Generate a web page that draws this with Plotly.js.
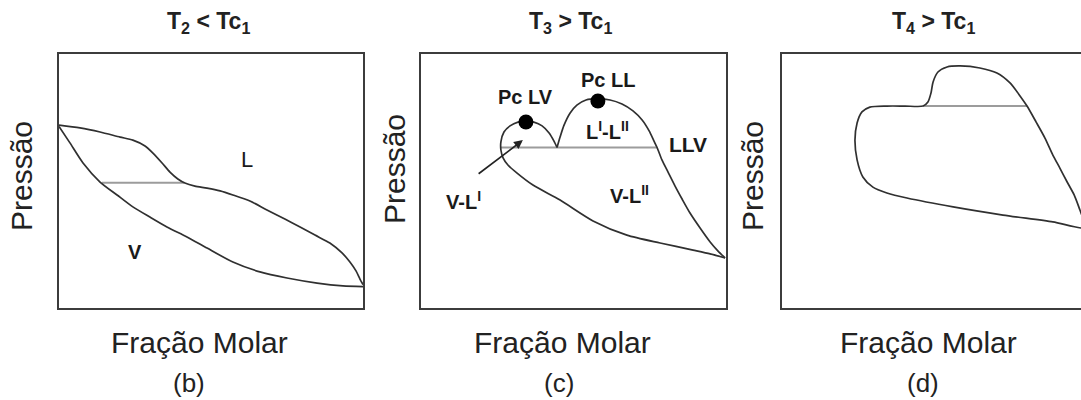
<!DOCTYPE html>
<html>
<head>
<meta charset="utf-8">
<script src="https://cdn.plot.ly/plotly-3.0.1.min.js"></script>
<style>
  html, body { margin: 0; padding: 0; overflow: hidden; background: #fff; }
  #chart { width: 1090px; height: 400px; }
</style>
</head>
<body>
<div id="chart"></div>
<script>
// Schematic P-x phase diagrams (composition normalised 0..1, pressure normalised 0..1)

// (b) T2 < Tc1 : bubble (liquid) curve
const bLiquidX = [0, 0.069, 0.135, 0.201, 0.243, 0.283, 0.309, 0.339, 0.365, 0.391, 0.414, 0.447, 0.487, 0.530, 0.572, 0.628, 0.684, 0.743, 0.793, 0.842, 0.891, 0.931, 0.957, 0.977, 0.990, 1.0];
const bLiquidY = [0.720, 0.709, 0.693, 0.673, 0.661, 0.638, 0.610, 0.571, 0.535, 0.508, 0.492, 0.480, 0.472, 0.461, 0.445, 0.421, 0.386, 0.350, 0.319, 0.287, 0.256, 0.217, 0.181, 0.146, 0.114, 0.092];
// (b) dew (vapour) curve
const bVaporX = [0, 0.036, 0.079, 0.135, 0.191, 0.243, 0.299, 0.355, 0.421, 0.487, 0.572, 0.661, 0.750, 0.849, 0.934, 1.0];
const bVaporY = [0.715, 0.650, 0.571, 0.496, 0.445, 0.398, 0.358, 0.319, 0.280, 0.236, 0.181, 0.142, 0.118, 0.098, 0.087, 0.084];
// (b) three-phase tie line
const bTieX = [0.141, 0.412];
const bTieY = [0.493, 0.493];

// (c) T3 > Tc1 : dew curve continuing into the L-V critical lobe
const cLobeVX = [0.997, 0.948, 0.892, 0.784, 0.675, 0.564, 0.456, 0.367, 0.315, 0.285, 0.269, 0.262, 0.262, 0.272, 0.292, 0.318, 0.344, 0.370, 0.397, 0.420, 0.436, 0.446];
const cLobeVY = [0.197, 0.213, 0.228, 0.256, 0.287, 0.343, 0.425, 0.484, 0.531, 0.563, 0.591, 0.622, 0.654, 0.693, 0.717, 0.732, 0.736, 0.732, 0.717, 0.689, 0.657, 0.632];
// (c) L-L critical lobe descending to the pure-component point
const cLobeLX = [0.446, 0.456, 0.469, 0.489, 0.511, 0.541, 0.580, 0.620, 0.659, 0.695, 0.725, 0.748, 0.764, 0.774, 0.790, 0.810, 0.833, 0.856, 0.882, 0.915, 0.948, 0.974, 0.997];
const cLobeLY = [0.632, 0.673, 0.720, 0.768, 0.799, 0.819, 0.823, 0.819, 0.803, 0.776, 0.740, 0.697, 0.657, 0.632, 0.583, 0.535, 0.480, 0.429, 0.374, 0.315, 0.260, 0.224, 0.197];
// (c) LLV line and critical points
const cTieX = [0.262, 0.774];
const cTieY = [0.632, 0.632];
const cCritX = [0.344, 0.580];
const cCritY = [0.732, 0.815];

// (d) T4 > Tc1 : single closed envelope
const dEnvX = [1.0, 0.990, 0.980, 0.961, 0.938, 0.914, 0.891, 0.865, 0.836, 0.806, 0.783, 0.750, 0.707, 0.651, 0.586, 0.543, 0.513, 0.497, 0.490, 0.480, 0.464, 0.405, 0.345, 0.289, 0.263, 0.247, 0.240, 0.247, 0.266, 0.299, 0.345, 0.411, 0.563, 0.727, 0.891, 1.0];
const dEnvY = [0.315, 0.354, 0.386, 0.445, 0.496, 0.551, 0.602, 0.669, 0.732, 0.795, 0.835, 0.886, 0.925, 0.945, 0.953, 0.949, 0.929, 0.890, 0.846, 0.811, 0.795, 0.795, 0.795, 0.791, 0.772, 0.728, 0.661, 0.583, 0.516, 0.476, 0.453, 0.433, 0.398, 0.366, 0.339, 0.315];
const dTieX = [0.464, 0.806];
const dTieY = [0.795, 0.795];

// Text
const panelTitles = ['T<sub>2</sub> < Tc<sub>1</sub>', 'T<sub>3</sub> > Tc<sub>1</sub>', 'T<sub>4</sub> > Tc<sub>1</sub>'];
const panelTags = ['(b)', '(c)', '(d)'];
const xTitle = 'Fração Molar';
const yTitle = 'Pressão';

// ---- drawing ----
const W = 1090, H = 400;
const px = v => v / W;
const py = v => 1 - v / H;

const CURVE = '#303030';
const TIE = '#9c9c9c';
const FONT = 'Liberation Sans, Arial, Helvetica, sans-serif';

function curve(x, y, xa, ya, color, width) {
  return { type: 'scatter', mode: 'lines', x: x, y: y, xaxis: xa, yaxis: ya,
           line: { color: color, width: width, shape: 'spline', smoothing: 0.7 },
           hoverinfo: 'skip', showlegend: false };
}

const data = [
  curve(bTieX, bTieY, 'x', 'y', TIE, 2),
  curve(bLiquidX, bLiquidY, 'x', 'y', CURVE, 1.7),
  curve(bVaporX, bVaporY, 'x', 'y', CURVE, 1.7),

  curve(cTieX, cTieY, 'x2', 'y2', TIE, 2),
  curve(cLobeVX, cLobeVY, 'x2', 'y2', CURVE, 1.7),
  curve(cLobeLX, cLobeLY, 'x2', 'y2', CURVE, 1.7),
  { type: 'scatter', mode: 'markers', x: cCritX, y: cCritY, xaxis: 'x2', yaxis: 'y2',
    marker: { color: '#000', size: 15 }, hoverinfo: 'skip', showlegend: false },

  curve(dTieX, dTieY, 'x3', 'y3', TIE, 2),
  curve(dEnvX, dEnvY, 'x3', 'y3', CURVE, 1.7)
];

function xAxis(d0, d1, anchor) {
  return { domain: [px(d0), px(d1)], range: [0, 1], anchor: anchor,
           showline: true, mirror: true, linecolor: '#3c3c3c', linewidth: 2,
           showgrid: false, zeroline: false, showticklabels: false, ticks: '', fixedrange: true };
}
function yAxis(anchor) {
  return { domain: [py(308), py(54)], range: [0, 1], anchor: anchor,
           showline: true, mirror: true, linecolor: '#3c3c3c', linewidth: 2,
           showgrid: false, zeroline: false, showticklabels: false, ticks: '', fixedrange: true };
}

const ann = [];
function paperText(text, x, y, size, angle) {
  ann.push({ text: text, xref: 'paper', yref: 'paper', x: px(x), y: py(y),
             xanchor: 'center', yanchor: 'middle', showarrow: false, textangle: angle || 0,
             font: { family: FONT, size: size, color: '#222' } });
}
function dataText(text, xa, ya, x, y, size) {
  ann.push({ text: text, xref: xa, yref: ya, x: x, y: y,
             xanchor: 'center', yanchor: 'middle', showarrow: false,
             font: { family: FONT, size: size, color: '#1a1a1a' } });
}

const titleX = [208, 571, 933];
const xTitleX = [199, 562, 928];
const yTitlePos = [[22, 176], [394, 169], [753, 176]];
const tagX = [189, 559, 923];
for (let i = 0; i < 3; i++) {
  paperText('<b>' + panelTitles[i] + '</b>', titleX[i], 22, 23);
  paperText(xTitle, xTitleX[i], 342, 30);
  paperText(yTitle, yTitlePos[i][0], yTitlePos[i][1], 30, -90);
  paperText(panelTags[i], tagX[i], 383, 26);
}

// region labels
dataText('L', 'x', 'y', 0.618, 0.583, 22);
dataText('<b>V</b>', 'x', 'y', 0.250, 0.220, 20);

dataText('<b>Pc LV</b>', 'x2', 'y2', 0.341, 0.831, 20);
dataText('<b>Pc LL</b>', 'x2', 'y2', 0.613, 0.898, 20);
dataText('<b>L<sup>I</sup>-L<sup>II</sup></b>', 'x2', 'y2', 0.610, 0.700, 20);
dataText('<b>LLV</b>', 'x2', 'y2', 0.875, 0.642, 21);
dataText('<b>V-L<sup>I</sup></b>', 'x2', 'y2', 0.140, 0.425, 20);
dataText('<b>V-L<sup>II</sup></b>', 'x2', 'y2', 0.685, 0.445, 20);

// arrow pointing at the V-L(I) region
ann.push({ text: '', xref: 'x2', yref: 'y2', axref: 'x2', ayref: 'y2',
           x: 0.334, y: 0.661, ax: 0.184, ay: 0.524,
           showarrow: true, arrowhead: 2, arrowsize: 1.1, arrowwidth: 1.6,
           arrowcolor: '#222', standoff: 0 });

const layout = {
  width: W, height: H,
  margin: { l: 0, r: 0, t: 0, b: 0 },
  paper_bgcolor: '#fff', plot_bgcolor: '#fff',
  showlegend: false,
  hovermode: false,
  xaxis: xAxis(59, 363, 'y'),
  yaxis: yAxis('x'),
  xaxis2: xAxis(421, 726, 'y2'),
  yaxis2: yAxis('x2'),
  xaxis3: xAxis(782, 1086, 'y3'),
  yaxis3: yAxis('x3'),
  annotations: ann,
  font: { family: FONT }
};

Plotly.newPlot('chart', data, layout, { displayModeBar: false });
</script>
</body>
</html>
